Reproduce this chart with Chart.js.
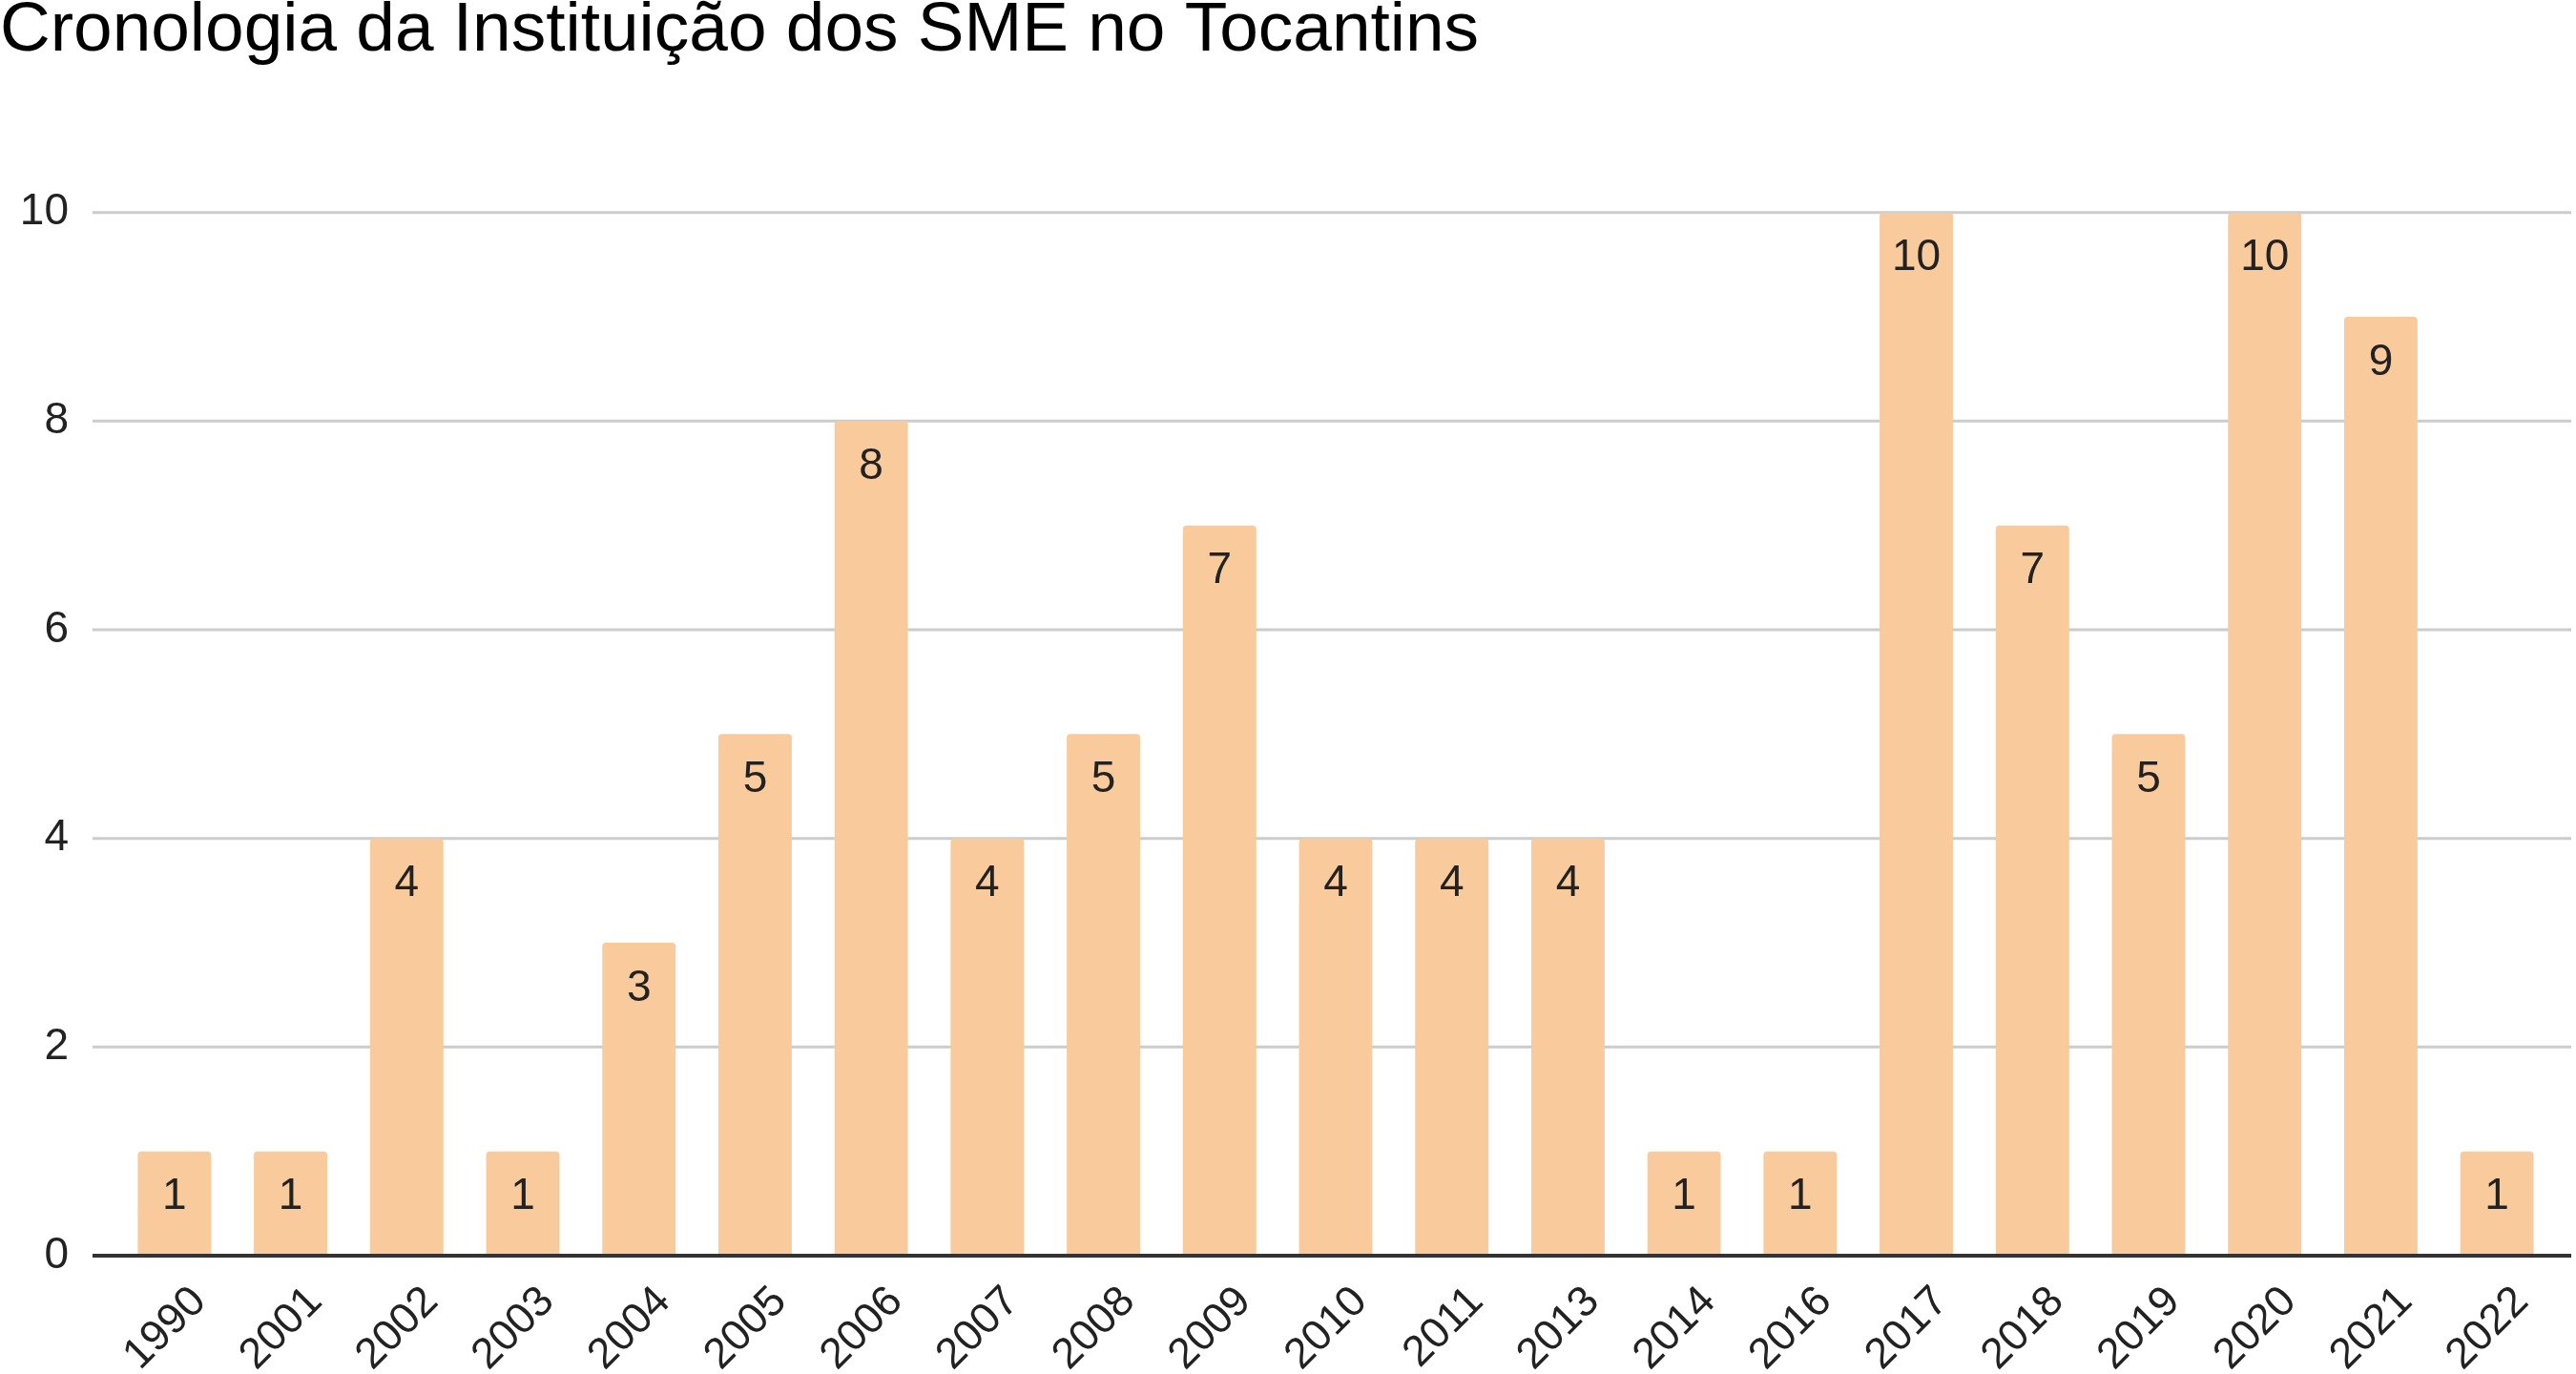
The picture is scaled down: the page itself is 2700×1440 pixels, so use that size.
<!DOCTYPE html>
<html>
<head>
<meta charset="utf-8">
<style>
  html, body { margin: 0; padding: 0; background: #ffffff; }
  #wrap { width: 2700px; height: 1440px; position: relative; }
</style>
<script src="https://cdn.jsdelivr.net/npm/chart.js@4/dist/chart.umd.min.js"></script>
</head>
<body>
<div id="wrap"><canvas id="c" width="2700" height="1440"></canvas></div>
<script>
const chartTitle = "Cronologia da Instituição dos SME no Tocantins";
const years = ["1990","2001","2002","2003","2004","2005","2006","2007","2008","2009","2010","2011","2013","2014","2016","2017","2018","2019","2020","2021","2022"];
const counts = [1,1,4,1,3,5,8,4,5,7,4,4,4,1,1,10,7,5,10,9,1];
const yTicks = [0,2,4,6,8,10];

const FONT = "'Liberation Sans', Arial, sans-serif";

const gridPlugin = {
  id: 'extGrid',
  beforeDatasetsDraw(chart) {
    const ctx = chart.ctx, y = chart.scales.y, a = chart.chartArea;
    ctx.save();
    yTicks.forEach(v => {
      if (v === 0) return;
      const py = y.getPixelForValue(v);
      ctx.strokeStyle = '#cccccc';
      ctx.lineWidth = 3;
      ctx.beginPath();
      ctx.moveTo(a.left - 25, py);
      ctx.lineTo(a.right + 17, py);
      ctx.stroke();
    });
    ctx.restore();
  },
  afterDatasetsDraw(chart) {
    const ctx = chart.ctx, y = chart.scales.y, a = chart.chartArea;
    ctx.save();
    const py = y.getPixelForValue(0);
    ctx.strokeStyle = '#333333';
    ctx.lineWidth = 4;
    ctx.beginPath();
    ctx.moveTo(a.left - 25, py);
    ctx.lineTo(a.right + 17, py);
    ctx.stroke();
    // value labels
    const meta = chart.getDatasetMeta(0);
    ctx.fillStyle = '#222222';
    ctx.font = "46px " + FONT;
    ctx.textAlign = 'center';
    ctx.textBaseline = 'middle';
    meta.data.forEach((bar, i) => {
      ctx.fillText(String(counts[i]), bar.x, bar.y + 48);
    });
    ctx.restore();
  }
};

new Chart(document.getElementById('c'), {
  type: 'bar',
  data: {
    labels: years,
    datasets: [{
      data: counts,
      backgroundColor: '#f9cb9c',
      borderWidth: 0,
      borderRadius: { topLeft: 4, topRight: 4, bottomLeft: 0, bottomRight: 0 },
      borderSkipped: 'bottom',
      barPercentage: 0.632,
      categoryPercentage: 1.0
    }]
  },
  options: {
    responsive: false,
    animation: false,
    devicePixelRatio: 1,
    layout: { padding: { left: 0, right: 22, top: 0, bottom: 0 } },
    plugins: {
      legend: { display: false },
      tooltip: { enabled: false },
      title: {
        display: true,
        text: chartTitle,
        align: 'start',
        color: '#000000',
        font: { family: FONT, size: 73, weight: 'normal', lineHeight: 0.9 },
        padding: { top: 0, bottom: 157 }
      }
    },
    scales: {
      x: {
        grid: { display: false, drawTicks: false },
        border: { display: false },
        ticks: {
          color: '#222222',
          font: { family: FONT, size: 45 },
          maxRotation: 45,
          minRotation: 45,
          padding: 22,
          labelOffset: 26,
          autoSkip: false
        },
        afterFit(scale) { scale.height = 124; }
      },
      y: {
        min: 0,
        max: 10,
        afterBuildTicks(scale) { scale.ticks = yTicks.map(v => ({ value: v })); },
        grid: { display: false, drawTicks: false },
        border: { display: false },
        ticks: {
          color: '#222222',
          font: { family: FONT, size: 46 },
          padding: 50
        },
        afterFit(scale) { scale.width = 122; }
      }
    }
  },
  plugins: [gridPlugin]
});
</script>
</body>
</html>
